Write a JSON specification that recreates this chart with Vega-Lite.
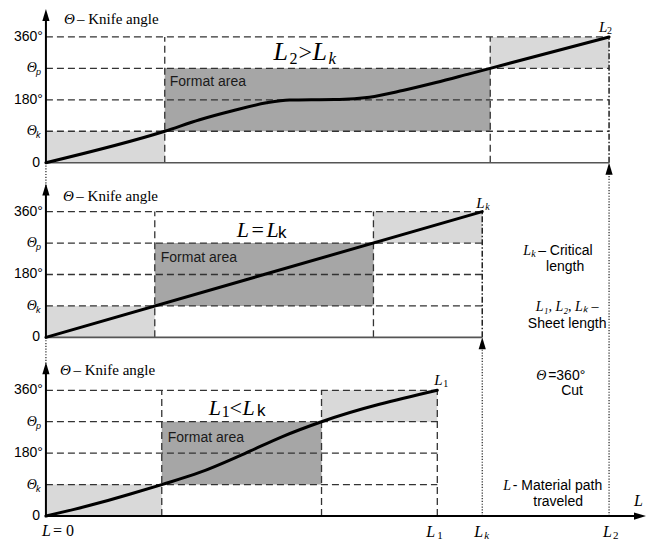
{
  "$schema": "https://vega.github.io/schema/vega-lite/v6.json",
  "width": 647,
  "height": 541,
  "autosize": {"type": "fit", "contains": "padding"},
  "padding": 0,
  "background": "white",
  "config": {"view": {"stroke": null}},
  "datasets": {
    "regions": [
      {"panel": "top", "shade": "light", "L": 0, "L2": 21.1, "theta": 0, "theta2": 90},
      {"panel": "top", "shade": "dark", "L": 21.1, "L2": 78.9, "theta": 90, "theta2": 270},
      {"panel": "top", "shade": "light", "L": 78.9, "L2": 100, "theta": 270, "theta2": 360},
      {"panel": "mid", "shade": "light", "L": 0, "L2": 19.33, "theta": 0, "theta2": 90},
      {"panel": "mid", "shade": "dark", "L": 19.33, "L2": 58.16, "theta": 90, "theta2": 270},
      {"panel": "mid", "shade": "light", "L": 58.16, "L2": 77.48, "theta": 270, "theta2": 360},
      {"panel": "bot", "shade": "light", "L": 0, "L2": 20.57, "theta": 0, "theta2": 90},
      {"panel": "bot", "shade": "dark", "L": 20.57, "L2": 48.94, "theta": 90, "theta2": 270},
      {"panel": "bot", "shade": "light", "L": 48.94, "L2": 69.5, "theta": 270, "theta2": 360}
    ],
    "lines": [
      {"kind": "dash", "panel": "top", "L": 0, "theta": 90, "L2": 100, "theta2": 90},
      {"kind": "dash", "panel": "top", "L": 0, "theta": 180, "L2": 100, "theta2": 180},
      {"kind": "dash", "panel": "top", "L": 0, "theta": 270, "L2": 100, "theta2": 270},
      {"kind": "dash", "panel": "top", "L": 0, "theta": 360, "L2": 100, "theta2": 360},
      {"kind": "dash", "panel": "top", "L": 21.1, "theta": 0, "L2": 21.1, "theta2": 360},
      {"kind": "dash", "panel": "top", "L": 78.9, "theta": 0, "L2": 78.9, "theta2": 360},
      {"kind": "dashdot", "panel": "top", "L": 100, "theta": 0, "L2": 100, "theta2": 360},
      {"kind": "dash", "panel": "mid", "L": 0, "theta": 90, "L2": 77.48, "theta2": 90},
      {"kind": "dash", "panel": "mid", "L": 0, "theta": 180, "L2": 77.48, "theta2": 180},
      {"kind": "dash", "panel": "mid", "L": 0, "theta": 270, "L2": 77.48, "theta2": 270},
      {"kind": "dash", "panel": "mid", "L": 0, "theta": 360, "L2": 77.48, "theta2": 360},
      {"kind": "dash", "panel": "mid", "L": 19.33, "theta": 0, "L2": 19.33, "theta2": 360},
      {"kind": "dash", "panel": "mid", "L": 58.16, "theta": 0, "L2": 58.16, "theta2": 360},
      {"kind": "dashdot", "panel": "mid", "L": 77.48, "theta": 0, "L2": 77.48, "theta2": 360},
      {"kind": "dash", "panel": "bot", "L": 0, "theta": 90, "L2": 69.5, "theta2": 90},
      {"kind": "dash", "panel": "bot", "L": 0, "theta": 180, "L2": 69.5, "theta2": 180},
      {"kind": "dash", "panel": "bot", "L": 0, "theta": 270, "L2": 69.5, "theta2": 270},
      {"kind": "dash", "panel": "bot", "L": 0, "theta": 360, "L2": 69.5, "theta2": 360},
      {"kind": "dash", "panel": "bot", "L": 20.57, "theta": 0, "L2": 20.57, "theta2": 360},
      {"kind": "dash", "panel": "bot", "L": 48.94, "theta": 0, "L2": 48.94, "theta2": 360},
      {"kind": "dash", "panel": "bot", "L": 69.5, "theta": 0, "L2": 69.5, "theta2": 360},
      {"kind": "base", "panel": "top", "L": 0, "theta": 0, "L2": 100, "theta2": 0},
      {"kind": "base", "panel": "mid", "L": 0, "theta": 0, "L2": 77.48, "theta2": 0},
      {"kind": "axis", "panel": "bot", "L": 0, "theta": 0, "L2": 104.5, "theta2": 0},
      {"kind": "axis", "panel": "top", "L": 0, "theta": 0, "L2": 0, "theta2": 418},
      {"kind": "axis", "panel": "mid", "L": 0, "theta": 0, "L2": 0, "theta2": 418},
      {"kind": "axis", "panel": "bot", "L": 0, "theta": 0, "L2": 0, "theta2": 418},
      {"kind": "dotted", "panel": "top", "L": 0, "theta": 0, "L2": 0, "theta2": 418, "panel2": "mid"},
      {"kind": "dotted", "panel": "mid", "L": 0, "theta": 0, "L2": 0, "theta2": 418, "panel2": "bot"},
      {"kind": "dotted", "panel": "bot", "L": 100, "theta": 0, "L2": 100, "theta2": -17, "panel2": "top"},
      {"kind": "dotted", "panel": "bot", "L": 77.48, "theta": 0, "L2": 77.48, "theta2": -17, "panel2": "mid"}
    ],
    "curves": [
      {"panel": "top", "L": 0, "theta": 0},
      {"panel": "top", "L": 21.1, "theta": 90},
      {"panel": "top", "L": 27.3, "theta": 122.9},
      {"panel": "top", "L": 33.16, "theta": 148.6},
      {"panel": "top", "L": 39.18, "theta": 171.4},
      {"panel": "top", "L": 43.26, "theta": 179.5},
      {"panel": "top", "L": 48.58, "theta": 180.5},
      {"panel": "top", "L": 52.13, "theta": 181},
      {"panel": "top", "L": 57.45, "theta": 187.6},
      {"panel": "top", "L": 63.35, "theta": 206.7},
      {"panel": "top", "L": 69.27, "theta": 229.5},
      {"panel": "top", "L": 75.18, "theta": 254.3},
      {"panel": "top", "L": 78.9, "theta": 270},
      {"panel": "top", "L": 100, "theta": 360},
      {"panel": "mid", "L": 0, "theta": 0},
      {"panel": "mid", "L": 77.48, "theta": 360},
      {"panel": "bot", "L": 0, "theta": 0},
      {"panel": "bot", "L": 5, "theta": 19},
      {"panel": "bot", "L": 10, "theta": 40},
      {"panel": "bot", "L": 15, "theta": 63},
      {"panel": "bot", "L": 20.57, "theta": 90},
      {"panel": "bot", "L": 27.3, "theta": 124.8},
      {"panel": "bot", "L": 35.3, "theta": 179},
      {"panel": "bot", "L": 42, "theta": 227.6},
      {"panel": "bot", "L": 48.94, "theta": 270},
      {"panel": "bot", "L": 69.5, "theta": 360}
    ],
    "arrows": [
      {"dir": "up", "panel": "top", "L": 0, "theta": 423},
      {"dir": "up", "panel": "mid", "L": 0, "theta": 423},
      {"dir": "up", "panel": "bot", "L": 0, "theta": 423},
      {"dir": "up", "panel": "top", "L": 100, "theta": -17},
      {"dir": "up", "panel": "mid", "L": 77.48, "theta": -17},
      {"dir": "right", "panel": "bot", "L": 105.5, "theta": 0}
    ],
    "labels": [
      {"kind": "axT", "text": "Θ", "panel": "top", "L": 3.19, "theta": 411},
      {"kind": "axTxt", "text": "– Knife angle", "panel": "top", "L": 5.5, "theta": 411},
      {"kind": "tick", "text": "360°", "panel": "top", "L": -0.53, "theta": 360},
      {"kind": "tick", "text": "180°", "panel": "top", "L": -0.53, "theta": 180},
      {"kind": "tick", "text": "0", "panel": "top", "L": -1.06, "theta": 0},
      {"kind": "tickT", "text": "Θ", "panel": "top", "L": -1.6, "theta": 270},
      {"kind": "tickT", "text": "Θ", "panel": "top", "L": -1.6, "theta": 90},
      {"kind": "tickSub", "text": "p", "panel": "top", "L": -1.77, "theta": 270},
      {"kind": "tickSub", "text": "k", "panel": "top", "L": -1.77, "theta": 90},
      {"kind": "format", "text": "Format area", "panel": "top", "L": 21.99, "theta": 231},
      {"kind": "titleBig", "text": "L", "panel": "top", "L": 40.43, "theta": 294.3},
      {"kind": "titleSub", "text": "2", "panel": "top", "L": 43.26, "theta": 282.9},
      {"kind": "titleOp", "text": ">", "panel": "top", "L": 44.86, "theta": 294.3},
      {"kind": "titleBig", "text": "L", "panel": "top", "L": 47.34, "theta": 294.3},
      {"kind": "titleSubIt", "text": "k", "panel": "top", "L": 50.18, "theta": 282.9},
      {"kind": "mathL", "text": "L", "panel": "top", "L": 98.23, "theta": 374.3},
      {"kind": "mathSub", "text": "2", "panel": "top", "L": 99.65, "theta": 368.6},

      {"kind": "axT", "text": "Θ", "panel": "mid", "L": 3.01, "theta": 405.7},
      {"kind": "axTxt", "text": "– Knife angle", "panel": "mid", "L": 5.4, "theta": 405.7},
      {"kind": "tick", "text": "360°", "panel": "mid", "L": -0.53, "theta": 360},
      {"kind": "tick", "text": "180°", "panel": "mid", "L": -0.53, "theta": 180},
      {"kind": "tick", "text": "0", "panel": "mid", "L": -1.06, "theta": 0},
      {"kind": "tickT", "text": "Θ", "panel": "mid", "L": -1.6, "theta": 270},
      {"kind": "tickT", "text": "Θ", "panel": "mid", "L": -1.6, "theta": 90},
      {"kind": "tickSub", "text": "p", "panel": "mid", "L": -1.77, "theta": 270},
      {"kind": "tickSub", "text": "k", "panel": "mid", "L": -1.77, "theta": 90},
      {"kind": "format", "text": "Format area", "panel": "mid", "L": 20.39, "theta": 228.6},
      {"kind": "titleMid", "text": "L", "panel": "mid", "L": 33.87, "theta": 288.6},
      {"kind": "titleOpS", "text": "=", "panel": "mid", "L": 36.52, "theta": 288.6},
      {"kind": "titleMid", "text": "L", "panel": "mid", "L": 39.18, "theta": 288.6},
      {"kind": "titleK", "text": "k", "panel": "mid", "L": 41.2, "theta": 285.7},
      {"kind": "mathL", "text": "L", "panel": "mid", "L": 76.42, "theta": 371.4},
      {"kind": "mathSubIt", "text": "k", "panel": "mid", "L": 78.01, "theta": 365.7},

      {"kind": "axT", "text": "Θ", "panel": "bot", "L": 2.48, "theta": 417},
      {"kind": "axTxt", "text": "– Knife angle", "panel": "bot", "L": 4.9, "theta": 417},
      {"kind": "tick", "text": "360°", "panel": "bot", "L": -0.53, "theta": 360},
      {"kind": "tick", "text": "180°", "panel": "bot", "L": -0.53, "theta": 180},
      {"kind": "tick", "text": "0", "panel": "bot", "L": -1.06, "theta": 0},
      {"kind": "tickT", "text": "Θ", "panel": "bot", "L": -1.6, "theta": 270},
      {"kind": "tickT", "text": "Θ", "panel": "bot", "L": -1.6, "theta": 90},
      {"kind": "tickSub", "text": "p", "panel": "bot", "L": -1.77, "theta": 270},
      {"kind": "tickSub", "text": "k", "panel": "bot", "L": -1.77, "theta": 90},
      {"kind": "format", "text": "Format area", "panel": "bot", "L": 21.63, "theta": 222.9},
      {"kind": "titleMid", "text": "L", "panel": "bot", "L": 28.9, "theta": 288.6},
      {"kind": "titleSub", "text": "1", "panel": "bot", "L": 31.21, "theta": 282.9},
      {"kind": "titleOpS", "text": "<", "panel": "bot", "L": 32.62, "theta": 288.6},
      {"kind": "titleMid", "text": "L", "panel": "bot", "L": 34.9, "theta": 288.6},
      {"kind": "titleK", "text": "k", "panel": "bot", "L": 37.5, "theta": 285.7},
      {"kind": "mathL", "text": "L", "panel": "bot", "L": 68.97, "theta": 374.3},
      {"kind": "mathSub", "text": "1", "panel": "bot", "L": 70.57, "theta": 368.6},

      {"kind": "axisL", "text": "L", "panel": "bot", "L": -0.71, "theta": -57.1},
      {"kind": "axisPlain", "text": "= 0", "panel": "bot", "L": 1.24, "theta": -57.1},
      {"kind": "axisL", "text": "L", "panel": "bot", "L": 67.55, "theta": -60},
      {"kind": "axisSub", "text": "1", "panel": "bot", "L": 69.5, "theta": -65.7},
      {"kind": "axisL", "text": "L", "panel": "bot", "L": 76.06, "theta": -60},
      {"kind": "axisSubIt", "text": "k", "panel": "bot", "L": 77.84, "theta": -65.7},
      {"kind": "axisL", "text": "L", "panel": "bot", "L": 98.94, "theta": -60},
      {"kind": "axisSub", "text": "2", "panel": "bot", "L": 100.71, "theta": -65.7},
      {"kind": "axisL", "text": "L", "panel": "bot", "L": 104.43, "theta": 28.6},

      {"kind": "noteMath", "text": "L", "panel": "bot", "L": 84.75, "theta": 748.6},
      {"kind": "noteSub", "text": "k", "panel": "bot", "L": 86.17, "theta": 742.9},
      {"kind": "noteLeft", "text": "– Critical", "panel": "bot", "L": 87.41, "theta": 748.6},
      {"kind": "note", "text": "length", "panel": "bot", "L": 92.2, "theta": 700},
      {"kind": "noteMathC", "text": "L₁, L₂, Lₖ –", "panel": "bot", "L": 92.55, "theta": 585.7},
      {"kind": "note", "text": "Sheet length", "panel": "bot", "L": 92.55, "theta": 537.1},
      {"kind": "noteMath", "text": "Θ", "panel": "bot", "L": 87.06, "theta": 388.6},
      {"kind": "noteLeft", "text": "=360°", "panel": "bot", "L": 89.18, "theta": 388.6},
      {"kind": "note", "text": "Cut", "panel": "bot", "L": 93.44, "theta": 345.7},
      {"kind": "noteMath", "text": "L", "panel": "bot", "L": 81.2, "theta": 74.3},
      {"kind": "noteLeft", "text": "- Material path", "panel": "bot", "L": 82.9, "theta": 74.3},
      {"kind": "note", "text": "traveled", "panel": "bot", "L": 90.96, "theta": 28.6}
    ]
  },
  "encoding": {
    "x": {"field": "L", "type": "quantitative", "scale": {"domain": [-8.156, 106.56], "nice": false, "zero": false}, "axis": null},
    "y": {"field": "y", "type": "quantitative", "scale": {"domain": [-68.571, 1477.143], "nice": false, "zero": false}, "axis": null}
  },
  "layer": [
    {
      "data": {"name": "regions"},
      "transform": [
        {"calculate": "datum.theta + (datum.panel === 'top' ? 1011.43 : datum.panel === 'mid' ? 511.43 : 0)", "as": "y"},
        {"calculate": "datum.theta2 + (datum.panel === 'top' ? 1011.43 : datum.panel === 'mid' ? 511.43 : 0)", "as": "y2"}
      ],
      "mark": {"type": "rect"},
      "encoding": {
        "x2": {"field": "L2"},
        "y2": {"field": "y2"},
        "color": {"field": "shade", "type": "nominal", "scale": {"domain": ["light", "dark"], "range": ["#d9d9d9", "#a6a6a6"]}, "legend": null}
      }
    },
    {
      "data": {"name": "lines"},
      "transform": [
        {"filter": "datum.kind === 'dash'"},
        {"calculate": "datum.theta + (datum.panel === 'top' ? 1011.43 : datum.panel === 'mid' ? 511.43 : 0)", "as": "y"},
        {"calculate": "datum.theta2 + ((datum.panel2 || datum.panel) === 'top' ? 1011.43 : (datum.panel2 || datum.panel) === 'mid' ? 511.43 : 0)", "as": "y2"}
      ],
      "mark": {"type": "rule", "color": "#333333", "strokeWidth": 1.3, "strokeDash": [7, 4]},
      "encoding": {"x2": {"field": "L2"}, "y2": {"field": "y2"}}
    },
    {
      "data": {"name": "lines"},
      "transform": [
        {"filter": "datum.kind === 'dashdot'"},
        {"calculate": "datum.theta + (datum.panel === 'top' ? 1011.43 : datum.panel === 'mid' ? 511.43 : 0)", "as": "y"},
        {"calculate": "datum.theta2 + ((datum.panel2 || datum.panel) === 'top' ? 1011.43 : (datum.panel2 || datum.panel) === 'mid' ? 511.43 : 0)", "as": "y2"}
      ],
      "mark": {"type": "rule", "color": "#222222", "strokeWidth": 1.5, "strokeDash": [6, 2, 1.5, 2]},
      "encoding": {"x2": {"field": "L2"}, "y2": {"field": "y2"}}
    },
    {
      "data": {"name": "lines"},
      "transform": [
        {"filter": "datum.kind === 'base'"},
        {"calculate": "datum.theta + (datum.panel === 'top' ? 1011.43 : datum.panel === 'mid' ? 511.43 : 0)", "as": "y"},
        {"calculate": "datum.theta2 + ((datum.panel2 || datum.panel) === 'top' ? 1011.43 : (datum.panel2 || datum.panel) === 'mid' ? 511.43 : 0)", "as": "y2"}
      ],
      "mark": {"type": "rule", "color": "#555555", "strokeWidth": 1.6},
      "encoding": {"x2": {"field": "L2"}, "y2": {"field": "y2"}}
    },
    {
      "data": {"name": "lines"},
      "transform": [
        {"filter": "datum.kind === 'dotted'"},
        {"calculate": "datum.theta + (datum.panel === 'top' ? 1011.43 : datum.panel === 'mid' ? 511.43 : 0)", "as": "y"},
        {"calculate": "datum.theta2 + ((datum.panel2 || datum.panel) === 'top' ? 1011.43 : (datum.panel2 || datum.panel) === 'mid' ? 511.43 : 0)", "as": "y2"}
      ],
      "mark": {"type": "rule", "color": "#222222", "strokeWidth": 1.2, "strokeDash": [1.2, 1.6]},
      "encoding": {"x2": {"field": "L2"}, "y2": {"field": "y2"}}
    },
    {
      "data": {"name": "lines"},
      "transform": [
        {"filter": "datum.kind === 'axis'"},
        {"calculate": "datum.theta + (datum.panel === 'top' ? 1011.43 : datum.panel === 'mid' ? 511.43 : 0)", "as": "y"},
        {"calculate": "datum.theta2 + ((datum.panel2 || datum.panel) === 'top' ? 1011.43 : (datum.panel2 || datum.panel) === 'mid' ? 511.43 : 0)", "as": "y2"}
      ],
      "mark": {"type": "rule", "color": "#000000", "strokeWidth": 2},
      "encoding": {"x2": {"field": "L2"}, "y2": {"field": "y2"}}
    },
    {
      "data": {"name": "curves"},
      "transform": [
        {"calculate": "datum.theta + (datum.panel === 'top' ? 1011.43 : datum.panel === 'mid' ? 511.43 : 0)", "as": "y"}
      ],
      "mark": {"type": "line", "color": "#000000", "strokeWidth": 3, "interpolate": "monotone", "strokeCap": "round"},
      "encoding": {"detail": {"field": "panel", "type": "nominal"}}
    },
    {
      "data": {"name": "arrows"},
      "transform": [
        {"filter": "datum.dir === 'up'"},
        {"calculate": "datum.theta + (datum.panel === 'top' ? 1011.43 : datum.panel === 'mid' ? 511.43 : 0)", "as": "y"}
      ],
      "mark": {"type": "point", "filled": true, "color": "#000000", "opacity": 1, "size": 144, "shape": "M0,-1L0.6,1L-0.6,1Z"}
    },
    {
      "data": {"name": "arrows"},
      "transform": [
        {"filter": "datum.dir === 'right'"},
        {"calculate": "datum.theta + (datum.panel === 'top' ? 1011.43 : datum.panel === 'mid' ? 511.43 : 0)", "as": "y"}
      ],
      "mark": {"type": "point", "filled": true, "color": "#000000", "opacity": 1, "size": 144, "shape": "M1,0L-1,-0.6L-1,0.6Z"}
    },
    {
      "data": {"name": "labels"},
      "transform": [{"filter": "datum.kind === 'axT'"}, {"calculate": "datum.theta + (datum.panel === 'top' ? 1011.43 : datum.panel === 'mid' ? 511.43 : 0)", "as": "y"}],
      "mark": {"type": "text", "font": "Liberation Serif", "fontStyle": "italic", "fontSize": 15, "align": "left", "baseline": "middle", "color": "#000"},
      "encoding": {"text": {"field": "text"}}
    },
    {
      "data": {"name": "labels"},
      "transform": [{"filter": "datum.kind === 'axTxt'"}, {"calculate": "datum.theta + (datum.panel === 'top' ? 1011.43 : datum.panel === 'mid' ? 511.43 : 0)", "as": "y"}],
      "mark": {"type": "text", "font": "Liberation Serif", "fontSize": 15, "align": "left", "baseline": "middle", "color": "#000"},
      "encoding": {"text": {"field": "text"}}
    },
    {
      "data": {"name": "labels"},
      "transform": [{"filter": "datum.kind === 'tick'"}, {"calculate": "datum.theta + (datum.panel === 'top' ? 1011.43 : datum.panel === 'mid' ? 511.43 : 0)", "as": "y"}],
      "mark": {"type": "text", "font": "Liberation Sans", "fontSize": 14, "align": "right", "baseline": "middle", "color": "#000"},
      "encoding": {"text": {"field": "text"}}
    },
    {
      "data": {"name": "labels"},
      "transform": [{"filter": "datum.kind === 'tickT'"}, {"calculate": "datum.theta + (datum.panel === 'top' ? 1011.43 : datum.panel === 'mid' ? 511.43 : 0)", "as": "y"}],
      "mark": {"type": "text", "font": "Liberation Serif", "fontStyle": "italic", "fontSize": 14, "align": "right", "baseline": "middle", "color": "#000"},
      "encoding": {"text": {"field": "text"}}
    },
    {
      "data": {"name": "labels"},
      "transform": [{"filter": "datum.kind === 'tickSub'"}, {"calculate": "datum.theta + (datum.panel === 'top' ? 1011.43 : datum.panel === 'mid' ? 511.43 : 0)", "as": "y"}],
      "mark": {"type": "text", "font": "Liberation Sans", "fontStyle": "italic", "fontSize": 9, "align": "left", "baseline": "middle", "dy": 4, "color": "#000"},
      "encoding": {"text": {"field": "text"}}
    },
    {
      "data": {"name": "labels"},
      "transform": [{"filter": "datum.kind === 'format'"}, {"calculate": "datum.theta + (datum.panel === 'top' ? 1011.43 : datum.panel === 'mid' ? 511.43 : 0)", "as": "y"}],
      "mark": {"type": "text", "font": "Liberation Sans", "fontSize": 14, "align": "left", "baseline": "middle", "color": "#1a1a1a"},
      "encoding": {"text": {"field": "text"}}
    },
    {
      "data": {"name": "labels"},
      "transform": [{"filter": "datum.kind === 'titleBig'"}, {"calculate": "datum.theta + (datum.panel === 'top' ? 1011.43 : datum.panel === 'mid' ? 511.43 : 0)", "as": "y"}],
      "mark": {"type": "text", "font": "Liberation Serif", "fontStyle": "italic", "fontSize": 26, "align": "left", "baseline": "alphabetic", "color": "#000"},
      "encoding": {"text": {"field": "text"}}
    },
    {
      "data": {"name": "labels"},
      "transform": [{"filter": "datum.kind === 'titleMid'"}, {"calculate": "datum.theta + (datum.panel === 'top' ? 1011.43 : datum.panel === 'mid' ? 511.43 : 0)", "as": "y"}],
      "mark": {"type": "text", "font": "Liberation Serif", "fontStyle": "italic", "fontSize": 22, "align": "left", "baseline": "alphabetic", "color": "#000"},
      "encoding": {"text": {"field": "text"}}
    },
    {
      "data": {"name": "labels"},
      "transform": [{"filter": "datum.kind === 'titleSub'"}, {"calculate": "datum.theta + (datum.panel === 'top' ? 1011.43 : datum.panel === 'mid' ? 511.43 : 0)", "as": "y"}],
      "mark": {"type": "text", "font": "Liberation Serif", "fontSize": 16, "align": "left", "baseline": "alphabetic", "color": "#000"},
      "encoding": {"text": {"field": "text"}}
    },
    {
      "data": {"name": "labels"},
      "transform": [{"filter": "datum.kind === 'titleSubIt'"}, {"calculate": "datum.theta + (datum.panel === 'top' ? 1011.43 : datum.panel === 'mid' ? 511.43 : 0)", "as": "y"}],
      "mark": {"type": "text", "font": "Liberation Serif", "fontStyle": "italic", "fontSize": 17, "align": "left", "baseline": "alphabetic", "color": "#000"},
      "encoding": {"text": {"field": "text"}}
    },
    {
      "data": {"name": "labels"},
      "transform": [{"filter": "datum.kind === 'titleOp'"}, {"calculate": "datum.theta + (datum.panel === 'top' ? 1011.43 : datum.panel === 'mid' ? 511.43 : 0)", "as": "y"}],
      "mark": {"type": "text", "font": "Liberation Serif", "fontSize": 24, "align": "left", "baseline": "alphabetic", "color": "#000"},
      "encoding": {"text": {"field": "text"}}
    },
    {
      "data": {"name": "labels"},
      "transform": [{"filter": "datum.kind === 'titleOpS'"}, {"calculate": "datum.theta + (datum.panel === 'top' ? 1011.43 : datum.panel === 'mid' ? 511.43 : 0)", "as": "y"}],
      "mark": {"type": "text", "font": "Liberation Serif", "fontSize": 22, "align": "left", "baseline": "alphabetic", "color": "#000"},
      "encoding": {"text": {"field": "text"}}
    },
    {
      "data": {"name": "labels"},
      "transform": [{"filter": "datum.kind === 'titleK'"}, {"calculate": "datum.theta + (datum.panel === 'top' ? 1011.43 : datum.panel === 'mid' ? 511.43 : 0)", "as": "y"}],
      "mark": {"type": "text", "font": "Liberation Sans", "fontSize": 17, "align": "left", "baseline": "alphabetic", "color": "#000"},
      "encoding": {"text": {"field": "text"}}
    },
    {
      "data": {"name": "labels"},
      "transform": [{"filter": "datum.kind === 'mathL'"}, {"calculate": "datum.theta + (datum.panel === 'top' ? 1011.43 : datum.panel === 'mid' ? 511.43 : 0)", "as": "y"}],
      "mark": {"type": "text", "font": "Liberation Serif", "fontStyle": "italic", "fontSize": 15, "align": "left", "baseline": "alphabetic", "color": "#000"},
      "encoding": {"text": {"field": "text"}}
    },
    {
      "data": {"name": "labels"},
      "transform": [{"filter": "datum.kind === 'mathSub'"}, {"calculate": "datum.theta + (datum.panel === 'top' ? 1011.43 : datum.panel === 'mid' ? 511.43 : 0)", "as": "y"}],
      "mark": {"type": "text", "font": "Liberation Serif", "fontSize": 10, "align": "left", "baseline": "alphabetic", "color": "#000"},
      "encoding": {"text": {"field": "text"}}
    },
    {
      "data": {"name": "labels"},
      "transform": [{"filter": "datum.kind === 'mathSubIt'"}, {"calculate": "datum.theta + (datum.panel === 'top' ? 1011.43 : datum.panel === 'mid' ? 511.43 : 0)", "as": "y"}],
      "mark": {"type": "text", "font": "Liberation Serif", "fontStyle": "italic", "fontSize": 10, "align": "left", "baseline": "alphabetic", "color": "#000"},
      "encoding": {"text": {"field": "text"}}
    },
    {
      "data": {"name": "labels"},
      "transform": [{"filter": "datum.kind === 'axisL'"}, {"calculate": "datum.theta + (datum.panel === 'top' ? 1011.43 : datum.panel === 'mid' ? 511.43 : 0)", "as": "y"}],
      "mark": {"type": "text", "font": "Liberation Serif", "fontStyle": "italic", "fontSize": 16, "align": "left", "baseline": "alphabetic", "color": "#000"},
      "encoding": {"text": {"field": "text"}}
    },
    {
      "data": {"name": "labels"},
      "transform": [{"filter": "datum.kind === 'axisPlain'"}, {"calculate": "datum.theta + (datum.panel === 'top' ? 1011.43 : datum.panel === 'mid' ? 511.43 : 0)", "as": "y"}],
      "mark": {"type": "text", "font": "Liberation Serif", "fontSize": 16, "align": "left", "baseline": "alphabetic", "color": "#000"},
      "encoding": {"text": {"field": "text"}}
    },
    {
      "data": {"name": "labels"},
      "transform": [{"filter": "datum.kind === 'axisSub'"}, {"calculate": "datum.theta + (datum.panel === 'top' ? 1011.43 : datum.panel === 'mid' ? 511.43 : 0)", "as": "y"}],
      "mark": {"type": "text", "font": "Liberation Serif", "fontSize": 11, "align": "left", "baseline": "alphabetic", "color": "#000"},
      "encoding": {"text": {"field": "text"}}
    },
    {
      "data": {"name": "labels"},
      "transform": [{"filter": "datum.kind === 'axisSubIt'"}, {"calculate": "datum.theta + (datum.panel === 'top' ? 1011.43 : datum.panel === 'mid' ? 511.43 : 0)", "as": "y"}],
      "mark": {"type": "text", "font": "Liberation Serif", "fontStyle": "italic", "fontSize": 11, "align": "left", "baseline": "alphabetic", "color": "#000"},
      "encoding": {"text": {"field": "text"}}
    },
    {
      "data": {"name": "labels"},
      "transform": [{"filter": "datum.kind === 'noteMath'"}, {"calculate": "datum.theta + (datum.panel === 'top' ? 1011.43 : datum.panel === 'mid' ? 511.43 : 0)", "as": "y"}],
      "mark": {"type": "text", "font": "Liberation Serif", "fontStyle": "italic", "fontSize": 14, "align": "left", "baseline": "alphabetic", "color": "#000"},
      "encoding": {"text": {"field": "text"}}
    },
    {
      "data": {"name": "labels"},
      "transform": [{"filter": "datum.kind === 'noteSub'"}, {"calculate": "datum.theta + (datum.panel === 'top' ? 1011.43 : datum.panel === 'mid' ? 511.43 : 0)", "as": "y"}],
      "mark": {"type": "text", "font": "Liberation Serif", "fontStyle": "italic", "fontSize": 10, "align": "left", "baseline": "alphabetic", "color": "#000"},
      "encoding": {"text": {"field": "text"}}
    },
    {
      "data": {"name": "labels"},
      "transform": [{"filter": "datum.kind === 'noteLeft'"}, {"calculate": "datum.theta + (datum.panel === 'top' ? 1011.43 : datum.panel === 'mid' ? 511.43 : 0)", "as": "y"}],
      "mark": {"type": "text", "font": "Liberation Sans", "fontSize": 14, "align": "left", "baseline": "alphabetic", "color": "#000"},
      "encoding": {"text": {"field": "text"}}
    },
    {
      "data": {"name": "labels"},
      "transform": [{"filter": "datum.kind === 'note'"}, {"calculate": "datum.theta + (datum.panel === 'top' ? 1011.43 : datum.panel === 'mid' ? 511.43 : 0)", "as": "y"}],
      "mark": {"type": "text", "font": "Liberation Sans", "fontSize": 14, "align": "center", "baseline": "alphabetic", "color": "#000"},
      "encoding": {"text": {"field": "text"}}
    },
    {
      "data": {"name": "labels"},
      "transform": [{"filter": "datum.kind === 'noteMathC'"}, {"calculate": "datum.theta + (datum.panel === 'top' ? 1011.43 : datum.panel === 'mid' ? 511.43 : 0)", "as": "y"}],
      "mark": {"type": "text", "font": "Liberation Serif", "fontStyle": "italic", "fontSize": 14, "align": "center", "baseline": "alphabetic", "color": "#000"},
      "encoding": {"text": {"field": "text"}}
    }
  ]
}
